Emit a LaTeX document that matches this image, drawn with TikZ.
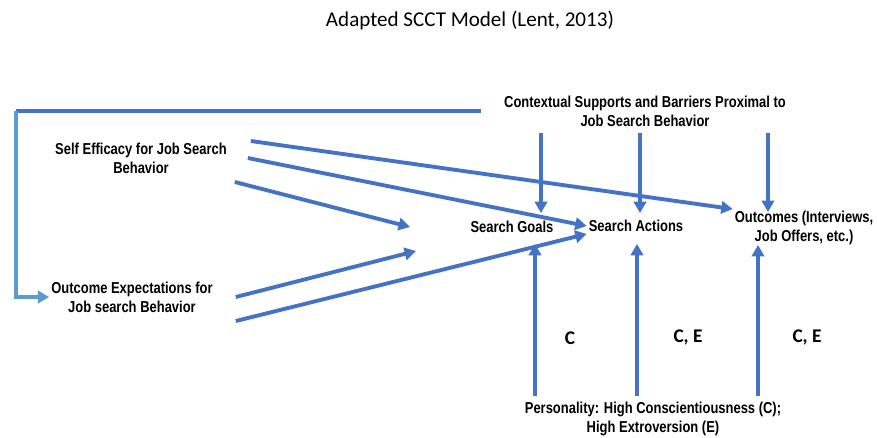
\documentclass[tikz,border=0pt]{standalone}
\usepackage{fontspec}
\setmainfont{Liberation Sans}
\newfontfamily\labelfont[FakeStretch=0.82]{Liberation Sans Bold}
\newfontfamily\calfont{Carlito}
\usepackage{tikz}
\usetikzlibrary{arrows.meta, positioning, calc}
\definecolor{sccdark}{HTML}{4472C4}
\definecolor{scclight}{HTML}{5B9BD5}

\begin{document}
\begin{tikzpicture}[x=0.02cm, y=-0.02cm, >={Triangle[length=6.5pt, width=7pt]},
    lbl/.style={font=\labelfont\fontsize{9}{10.8}\selectfont, align=center, inner sep=1pt},
    trait/.style={font=\calfont\bfseries\fontsize{11}{13}\selectfont, inner sep=1pt},
    arr/.style={->, line width=2.2pt, draw=sccdark}]

      \useasboundingbox (0,0) rectangle (877,437);

      \node[font=\calfont\fontsize{12}{14}\selectfont] (title) at (470,20) {Adapted SCCT Model (Lent, 2013)};

      \node[lbl] (ctx) at (645,111) {Contextual Supports and Barriers Proximal to\\Job Search Behavior};
      \node[lbl] (self) at (141,158) {Self Efficacy for Job Search\\Behavior};
      \node[lbl] (oexp) at (132,297) {Outcome Expectations for\\Job search Behavior};
      \node[lbl] (goals) at (512,227) {Search Goals};
      \node[lbl] (act) at (636,226) {Search Actions};
      \node[lbl] (outc) at (804,228) {Outcomes (Interviews,\\Job Offers, etc.)};
      \node[lbl] (pers) at (653,419) {Personality: High Conscientiousness (C);\\High Extroversion (E)};

      \node[trait] (tc) at (570,338) {C};
      \node[trait] (tce1) at (688,337) {C, E};
      \node[trait] (tce2) at (807,337) {C, E};

      \coordinate (ctxend) at (481,111);
      \coordinate (corner) at (16,111);
      \coordinate (gin1) at (410,227);
      \coordinate (gin2) at (416,251);

      % feedback from the context to outcome expectations
      \draw[line width=2.2pt, sccdark] (ctxend) -- (corner);
      \draw[->, line width=2.2pt, scclight] (corner) |- (oexp.west);

      % self efficacy
      \draw[arr] ([shift={(22,-17)}]self.east) -- (outc.north west);
      \draw[arr] ([shift={(19,0)}]self.east) -- (act.west);
      \draw[arr] ([shift={(6,24)}]self.east) -- (gin1);

      % outcome expectations
      \draw[arr] ([shift={(21,0)}]oexp.east) -- (gin2);
      \draw[arr] ([shift={(21,24)}]oexp.east) -- (act.south west);

      % contextual supports
      \foreach \dx/\tgt/\tx/\ty in {-104/goals/29/-6, -5/act/4/-5, 123/outc/-36/3}
        \draw[arr] ($(ctx.south)+(\dx,5)$) -- ($(\tgt.north)+(\tx,\ty)$);

      % personality
      \foreach \dx/\tgt/\tx/\ty in {-118/goals/23/9, -16/act/1/10, 105/outc/-46/-2}
        \draw[arr] ($(pers.north)+(\dx,-4)$) -- ($(\tgt.south)+(\tx,\ty)$);

    \end{tikzpicture}
\end{document}
